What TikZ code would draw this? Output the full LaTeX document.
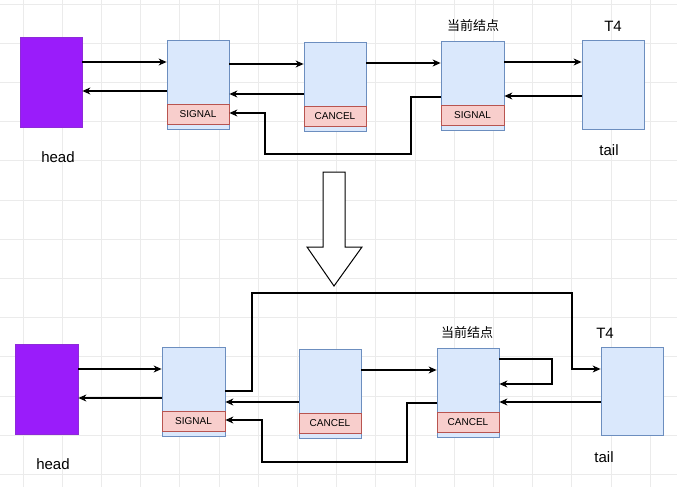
\documentclass[tikz,border=0pt]{standalone}
\usepackage{fontspec}
\setmainfont{Liberation Sans}
\newfontfamily\cjk{Noto Sans CJK SC}
\usetikzlibrary{arrows.meta,calc}
\definecolor{headfill}{HTML}{9A1CFA}
\definecolor{headdraw}{HTML}{8E2BD8}
\definecolor{nodefill}{HTML}{DAE8FC}
\definecolor{nodedraw}{HTML}{6C8EBF}
\definecolor{bandfill}{HTML}{F8CECC}
\definecolor{banddraw}{HTML}{B85450}
\definecolor{gridc}{HTML}{EBEBEB}
\tikzset{
  headbox/.style={draw=headdraw,fill=headfill,line width=0.8pt,minimum width=62pt,minimum height=90pt,inner sep=0pt},
  listbox/.style={draw=nodedraw,fill=nodefill,line width=0.8pt,minimum width=62pt,minimum height=89pt,inner sep=0pt},
  band/.style={draw=banddraw,fill=bandfill,line width=0.8pt,minimum width=62pt,minimum height=20pt,inner sep=0pt,font=\fontsize{10}{12}\selectfont},
  bigtxt/.style={inner sep=0pt,font=\fontsize{15}{18}\selectfont},
  cjktxt/.style={inner sep=0pt,font=\cjk\fontsize{13}{16}\selectfont},
  conn/.style={line width=1.1pt,-{Stealth[length=8pt,width=7pt,inset=2.5pt]}},
  plain/.style={line width=1.1pt}
}
\begin{document}
\begin{tikzpicture}[x=1pt,y=-1pt]
\useasboundingbox (0,0) rectangle (677,487);
\fill[white] (0,0) rectangle (677,487);
% faint grid
\foreach \k in {0,...,16} {\draw[gridc,line width=0.7pt] ({23+39.2*\k},0) -- ({23+39.2*\k},487);}
\foreach \k in {0,...,12} {\draw[gridc,line width=0.7pt] (0,{4+39.2*\k}) -- (677,{4+39.2*\k});}

% ---------------- top row ----------------
\node[headbox] (h1) at (51,82) {};
\node[listbox] (a1) at (198,84.5) {};
\node[band] (a1s) at (198,114.5) {SIGNAL};
\node[listbox] (b1) at (335,86.5) {};
\node[band] (b1s) at (335,116.5) {CANCEL};
\node[listbox,minimum width=63pt] (c1) at (472.5,85.5) {};
\node[band,minimum width=63pt] (c1s) at (472.5,115.5) {SIGNAL};
\node[listbox] (t1) at (613,84.5) {};
\node[bigtxt] (lh1) at (58,157) {head};
\node[cjktxt] (lc1) at (473,26) {当前结点};
\node[bigtxt] (lt1) at (613,26) {T4};
\node[bigtxt] (ltl1) at (609,150) {tail};

\coordinate (r1a) at (411,97);
\coordinate (r1b) at (411,154);
\coordinate (r1c) at (265,154);
\coordinate (r1d) at (265,113);

\draw[conn] (h1.east |- 0,62) -- (a1.west |- 0,62);
\draw[conn] (a1.west |- 0,91) -- (h1.east |- 0,91);
\draw[conn] (a1.east |- 0,64) -- (b1.west |- 0,64);
\draw[conn] (b1.west |- 0,94) -- (a1.east |- 0,94);
\draw[conn] (b1.east |- 0,63) -- (c1.west |- 0,63);
\draw[conn] (c1.east |- 0,62) -- (t1.west |- 0,62);
\draw[conn] (t1.west |- 0,96) -- (c1.east |- 0,96);
\draw[conn] (c1.west |- r1a) -- (r1a) -- (r1b) -- (r1c) -- (r1d) -- (a1s.east |- r1d);

% ---------------- block arrow ----------------
\draw[line width=1pt,fill=white,line join=miter]
  (323,172) -- (345,172) -- (345,247) -- (362,247) -- (334,286) -- (307,247) -- (323,247) -- cycle;

% ---------------- bottom row ----------------
\node[headbox,minimum width=63pt] (h2) at (46.5,389) {};
\node[listbox,minimum width=63pt] (a2) at (193.5,391.5) {};
\node[band,minimum width=63pt] (a2s) at (193.5,421.5) {SIGNAL};
\node[listbox] (b2) at (330,393.5) {};
\node[band] (b2s) at (330,423) {CANCEL};
\node[listbox] (c2) at (468,392.5) {};
\node[band] (c2s) at (468,422.5) {CANCEL};
\node[listbox,minimum height=88pt] (t2) at (632,391) {};
\node[bigtxt] (lh2) at (53,464) {head};
\node[cjktxt] (lc2) at (467,333) {当前结点};
\node[bigtxt] (lt2) at (605,333) {T4};
\node[bigtxt] (ltl2) at (604,457) {tail};

\coordinate (p1) at (252,391);
\coordinate (p2) at (252,293);
\coordinate (p3) at (572,293);
\coordinate (p4) at (572,369);
\coordinate (s1) at (552,359);
\coordinate (s2) at (552,384);
\coordinate (r2a) at (407,403);
\coordinate (r2b) at (407,462);
\coordinate (r2c) at (262,462);
\coordinate (r2d) at (262,420);

\draw[conn] (h2.east |- 0,369) -- (a2.west |- 0,369);
\draw[conn] (a2.west |- 0,398) -- (h2.east |- 0,398);
\draw[conn] (a2.east |- p1) -- (p1) -- (p2) -- (p3) -- (p4) -- (t2.west |- p4);
\draw[conn] (b2.west |- 0,402) -- (a2.east |- 0,402);
\draw[conn] (b2.east |- 0,370) -- (c2.west |- 0,370);
\draw[conn] (c2.east |- s1) -- (s1) -- (s2) -- (c2.east |- s2);
\draw[conn] (t2.west |- 0,402) -- (c2.east |- 0,402);
\draw[conn] (c2.west |- r2a) -- (r2a) -- (r2b) -- (r2c) -- (r2d) -- (a2s.east |- r2d);
\end{tikzpicture}
\end{document}
